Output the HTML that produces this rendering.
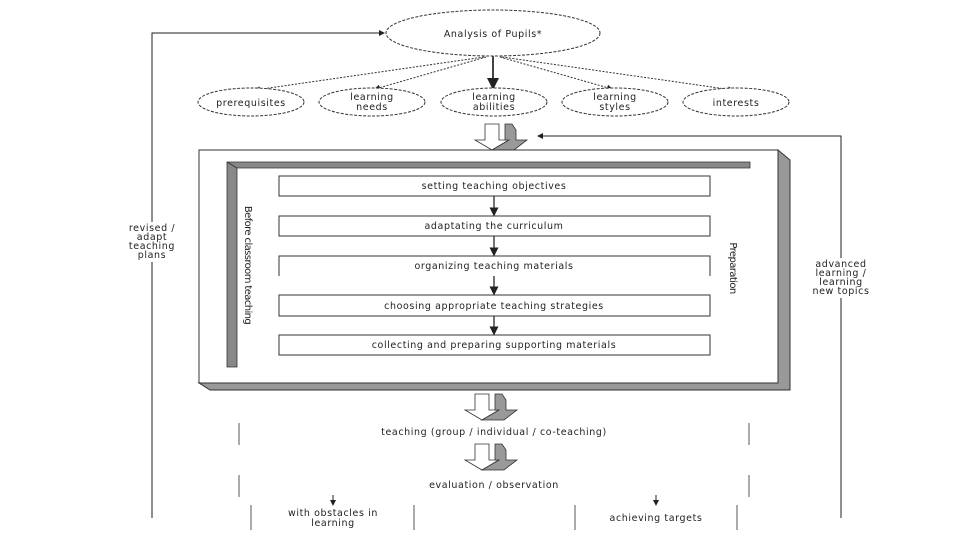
<!DOCTYPE html>
<html><head><meta charset="utf-8"><style>
html,body{margin:0;padding:0;background:#fff;width:960px;height:540px;overflow:hidden}
svg text{font-family:"DejaVu Sans","Liberation Sans",sans-serif;font-size:9.5px;fill:#222;letter-spacing:0.6px}
</style></head><body>
<svg width="960" height="540" viewBox="0 0 960 540" xmlns="http://www.w3.org/2000/svg">
<defs>
<marker id="a" markerWidth="6" markerHeight="6" refX="5" refY="3" orient="auto"><path d="M0,0 L6,3 L0,6z" fill="#222"/></marker>
</defs>
<!-- top ellipse -->
<ellipse cx="493" cy="33" rx="107" ry="23" fill="#fff" stroke="#333" stroke-dasharray="3,1.5"/>
<text x="493" y="37" text-anchor="middle">Analysis of Pupils*</text>
<!-- connectors -->
<g stroke="#333" stroke-dasharray="2,1.5" fill="none" marker-end="url(#a)">
<line x1="484" y1="57" x2="255" y2="90"/>
<line x1="486" y1="57" x2="375" y2="89"/>
<line x1="500" y1="57" x2="612" y2="89"/>
<line x1="502" y1="57" x2="733" y2="90"/>
</g>
<line x1="493" y1="56" x2="493" y2="88" stroke="#444" stroke-width="2" marker-end="url(#a)"/>
<g fill="#fff" stroke="#333" stroke-dasharray="3,1.5">
<ellipse cx="251" cy="102" rx="53" ry="14"/>
<ellipse cx="372" cy="102" rx="53" ry="14"/>
<ellipse cx="494" cy="102" rx="53" ry="14"/>
<ellipse cx="615" cy="102" rx="53" ry="14"/>
<ellipse cx="736" cy="102" rx="53" ry="14"/>
</g>
<text x="251" y="106" text-anchor="middle">prerequisites</text>
<text x="372" y="100" text-anchor="middle">learning</text><text x="372" y="110" text-anchor="middle">needs</text>
<text x="494" y="100" text-anchor="middle">learning</text><text x="494" y="110" text-anchor="middle">abilities</text>
<text x="615" y="100" text-anchor="middle">learning</text><text x="615" y="110" text-anchor="middle">styles</text>
<text x="736" y="106" text-anchor="middle">interests</text>
<!-- side loops -->
<polyline points="152,518 152,33 384,33" fill="none" stroke="#222" marker-end="url(#a)"/>
<polyline points="841,518 841,136 538,136" fill="none" stroke="#222" marker-end="url(#a)"/>
<g fill="#fff"><rect x="110" y="222" width="84" height="40"/><rect x="800" y="258" width="84" height="40"/></g>
<text x="152" y="231" text-anchor="middle">revised /</text>
<text x="152" y="240" text-anchor="middle">adapt</text>
<text x="152" y="249" text-anchor="middle">teaching</text>
<text x="152" y="258" text-anchor="middle">plans</text>
<text x="841" y="267" text-anchor="middle">advanced</text>
<text x="841" y="276" text-anchor="middle">learning /</text>
<text x="841" y="285" text-anchor="middle">learning</text>
<text x="841" y="294" text-anchor="middle">new topics</text>
<!-- block arrows -->
<g id="ba" stroke="#333" stroke-width="0.8">
<path d="M485,124 L485,140 L475,140 L492,150 L509,140 L499,140 L499,124z" fill="#fff"/>
<path d="M505,124 L512,124 L516,130 L516,140 L527,140 L514,150 L492,150 L509,140 L505,140z" fill="#999"/>
</g>
<use href="#ba" transform="translate(-10,270)"/>
<use href="#ba" transform="translate(-10,320)"/>
<!-- main box -->
<path d="M778,150 L790,160 L790,390 L210,390 L199,383 L778,383z" fill="#999" stroke="#333"/>
<rect x="199" y="150" width="579" height="233" fill="#fff" stroke="#333"/>
<path d="M227,162 L750,162 L750,168 L237,168 L237,367 L227,367z" fill="#888" stroke="#333" stroke-width="0.8"/>
<line x1="227" y1="162" x2="237" y2="168" stroke="#333"/>
<g fill="#fff" stroke="#333">
<rect x="279" y="176" width="431" height="20"/>
<rect x="279" y="216" width="431" height="20"/>
<path d="M279,276 L279,256 L710,256 L710,276"/>
<rect x="279" y="295" width="431" height="21"/>
<rect x="279" y="335" width="431" height="20"/>
</g>
<g stroke="#444" stroke-width="1.5" marker-end="url(#a)">
<line x1="494" y1="196" x2="494" y2="215"/>
<line x1="494" y1="236" x2="494" y2="255"/>
<line x1="494" y1="276" x2="494" y2="294"/>
<line x1="494" y1="316" x2="494" y2="334"/>
</g>
<text x="494" y="189" text-anchor="middle">setting teaching objectives</text>
<text x="494" y="229" text-anchor="middle">adaptating the curriculum</text>
<text x="494" y="269" text-anchor="middle">organizing teaching materials</text>
<text x="494" y="309" text-anchor="middle">choosing appropriate teaching strategies</text>
<text x="494" y="348" text-anchor="middle">collecting and preparing supporting materials</text>
<text transform="translate(245,265) rotate(90)" text-anchor="middle" style="font-size:10px;letter-spacing:-0.6px">Before classroom teaching</text>
<text transform="translate(730,268) rotate(90)" text-anchor="middle" style="font-size:10px;letter-spacing:-0.6px">Preparation</text>
<!-- bottom -->
<g stroke="#555">
<line x1="239" y1="423" x2="239" y2="445"/><line x1="749" y1="423" x2="749" y2="445"/>
<line x1="239" y1="475" x2="239" y2="497"/><line x1="749" y1="475" x2="749" y2="497"/>
<line x1="251" y1="505" x2="251" y2="530"/><line x1="414" y1="505" x2="414" y2="530"/>
<line x1="575" y1="505" x2="575" y2="530"/><line x1="737" y1="505" x2="737" y2="530"/>
</g>
<text x="494" y="435" text-anchor="middle">teaching (group / individual / co-teaching)</text>
<text x="494" y="488" text-anchor="middle">evaluation / observation</text>
<g stroke="#222" marker-end="url(#a)"><line x1="333" y1="495" x2="333" y2="505"/><line x1="656" y1="495" x2="656" y2="505"/></g>
<text x="333" y="516" text-anchor="middle">with obstacles in</text>
<text x="333" y="526" text-anchor="middle">learning</text>
<text x="656" y="521" text-anchor="middle">achieving targets</text>
</svg>
</body></html>
